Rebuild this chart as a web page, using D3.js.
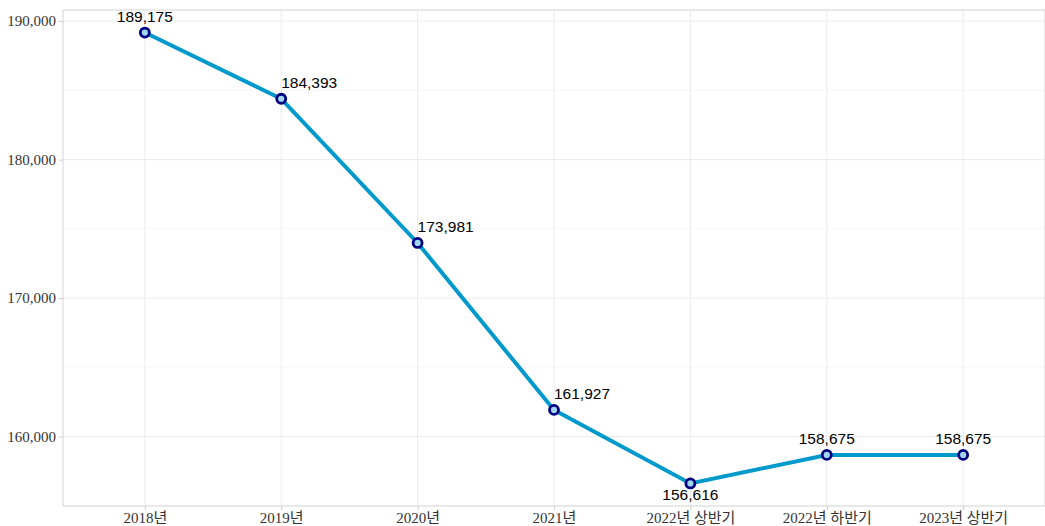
<!DOCTYPE html>
<html>
<head>
<meta charset="utf-8">
<script src="https://cdn.jsdelivr.net/npm/d3@7"></script>
<style>
  body { margin: 0; background: #fff; }
  svg text { font-family: "Liberation Serif", "Noto Sans CJK KR", serif; }
</style>
</head>
<body>
<div id="chart"></div>
<script>
var categories = ["2018년", "2019년", "2020년", "2021년", "2022년 상반기", "2022년 하반기", "2023년 상반기"];
var values = [189175, 184393, 173981, 161927, 156616, 158675, 158675];
var yTicks = [160000, 170000, 180000, 190000];
var yMinorTicks = [155000, 165000, 175000, 185000];
// label offsets (dx, dy) relative to each point
var labelDx = [0, 28, 28, 28, 0, 0, 0];
var labelBelow = [false, false, false, false, true, false, false];

var W = 1045, H = 526;
var margin = {top: 10, right: 0, bottom: 20, left: 63};
var width = W - margin.left - margin.right;
var height = H - margin.top - margin.bottom;

var svg = d3.select("#chart")
    .append("svg")
    .attr("width", W)
    .attr("height", H)
    .append("g")
    .attr("transform", "translate(" + margin.left + "," + margin.top + ")");

var xScale = d3.scalePoint()
    .domain(categories)
    .range([0, width])
    .padding(0.6);

var lo = d3.min(values), hi = d3.max(values);
var pad = (hi - lo) * 0.05;
var yScale = d3.scaleLinear()
    .domain([lo - pad, hi + pad])
    .range([height, 0]);

// minor grid
svg.selectAll("line.minor")
    .data(yMinorTicks)
    .enter()
    .append("line")
    .attr("x1", 0).attr("x2", width)
    .attr("y1", function (d) { return yScale(d); })
    .attr("y2", function (d) { return yScale(d); })
    .attr("stroke", "#f3f3f3")
    .attr("stroke-width", 0.7);

// major grid
svg.selectAll("line.majory")
    .data(yTicks)
    .enter()
    .append("line")
    .attr("x1", 0).attr("x2", width)
    .attr("y1", function (d) { return yScale(d); })
    .attr("y2", function (d) { return yScale(d); })
    .attr("stroke", "#ebebeb")
    .attr("stroke-width", 1);

svg.selectAll("line.majorx")
    .data(categories)
    .enter()
    .append("line")
    .attr("y1", 0).attr("y2", height)
    .attr("x1", function (d) { return xScale(d); })
    .attr("x2", function (d) { return xScale(d); })
    .attr("stroke", "#ebebeb")
    .attr("stroke-width", 1);

// panel border
svg.append("rect")
    .attr("x", 0).attr("y", 0)
    .attr("width", width).attr("height", height)
    .attr("fill", "none")
    .attr("stroke", "#d6d6d6")
    .attr("stroke-width", 1);

// axes
var yAxis = d3.axisLeft(yScale)
    .tickValues(yTicks)
    .tickSize(4)
    .tickPadding(3)
    .tickFormat(d3.format(","));

var xAxis = d3.axisBottom(xScale)
    .tickSize(4)
    .tickPadding(2);

var gy = svg.append("g").call(yAxis);
var gx = svg.append("g")
    .attr("transform", "translate(0," + height + ")")
    .call(xAxis);

[gy, gx].forEach(function (g) {
    g.select(".domain").remove();
    g.selectAll(".tick line").attr("stroke", "#cccccc");
    g.selectAll(".tick text")
        .attr("fill", "#333333")
        .style("font-size", "15px");
});

// line
var line = d3.line()
    .x(function (d, i) { return xScale(categories[i]); })
    .y(function (d) { return yScale(d); });

svg.append("path")
    .datum(values)
    .attr("d", line)
    .attr("fill", "none")
    .attr("stroke", "#0099cc")
    .attr("stroke-width", 4);

// points
svg.selectAll("circle.pt")
    .data(values)
    .enter()
    .append("circle")
    .attr("cx", function (d, i) { return xScale(categories[i]); })
    .attr("cy", function (d) { return yScale(d); })
    .attr("r", 4.5)
    .attr("fill", "#9fd8ee")
    .attr("stroke", "#000080")
    .attr("stroke-width", 2.8);

// value labels
svg.selectAll("text.lbl")
    .data(values)
    .enter()
    .append("text")
    .attr("x", function (d, i) { return xScale(categories[i]) + labelDx[i]; })
    .attr("y", function (d, i) { return yScale(d) + (labelBelow[i] ? 17 : -11); })
    .attr("text-anchor", "middle")
    .attr("fill", "#000")
    .style("font-family", "'Liberation Sans', Arial, sans-serif")
    .style("font-size", "15.5px")
    .text(function (d) { return d3.format(",")(d); });
</script>
</body>
</html>
